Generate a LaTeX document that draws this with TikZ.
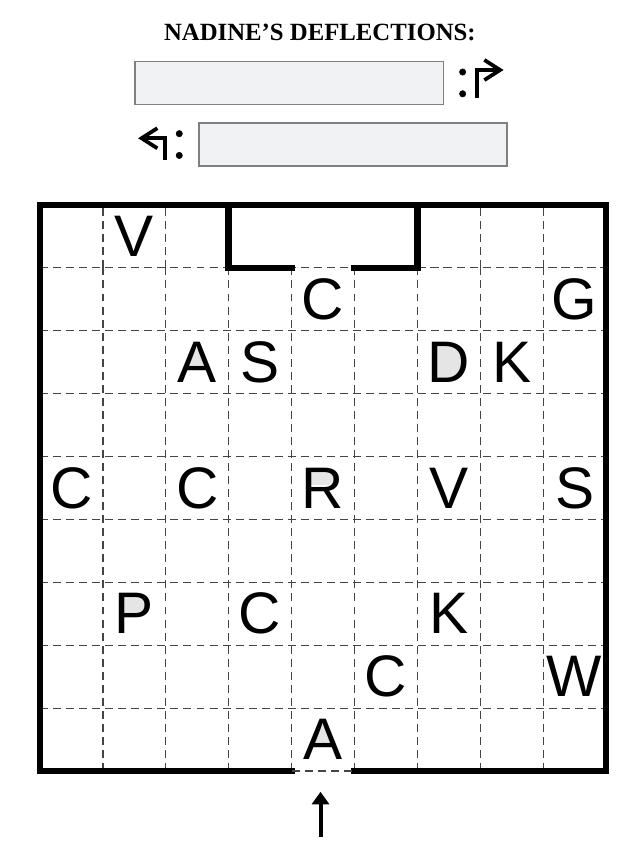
\documentclass[tikz,border=0pt]{standalone}
\usepackage{fontspec}
\setmainfont{Liberation Serif}
\newfontfamily\lettersfont{Liberation Sans}
\newfontfamily\colonfont[FakeBold=1.2]{Poppins}
\usepackage[dvipsnames]{xcolor}
\usetikzlibrary{positioning,backgrounds,arrows.meta}
\definecolor{boxgray}{HTML}{F0F2F3}
\definecolor{gridgray}{HTML}{454545}

\begin{document}
\begin{tikzpicture}[-,>=stealth,thick,
    letter/.style={font=\lettersfont\fontsize{26.5}{27}\selectfont,inner sep=0pt},
    answer box/.style={draw=gray,fill=boxgray,line width=0.6pt,minimum width=4.9cm,minimum height=0.68cm,inner sep=0pt},
    colon/.style={font=\colonfont\fontsize{23}{24}\selectfont,inner sep=0pt},
    frame/.style={line width=3pt},
    grid line/.style={gridgray,line width=0.55pt,dash pattern=on 3.6pt off 2.3pt},
    turn/.style={-{Straight Barb[length=0.25cm,width=0.32cm]},line width=1.7pt},
    entry/.style={-{Triangle[length=0.2cm,width=0.27cm]},line width=1.8pt},
    counter/.style={fill=black!10}]

            \useasboundingbox (-0.636,-1.224) rectangle (9.571,12.258);

            % header
            \node[font=\bfseries\fontsize{11.2}{13}\selectfont] (title) at (4.45,11.75) {NADINE'S DEFLECTIONS:};
            \node[answer box] (box1) at (3.96,10.94) {};
            \node[answer box] (box2) at (4.976,9.96) {};
            \node[colon] (colon1) [right=0.2cm of box1] {:};
            \node[colon] (colon2) [left=0.2cm of box2] {:};

            \coordinate (r1) at (6.95,10.70);
            \coordinate (r2) at (7.37,11.145);
            \coordinate (l1) at (1.99,9.714);
            \coordinate (l2) at (1.56,10.06);
            \draw[turn] (r1) |- (r2);
            \draw[turn] (l1) |- (l2);

            % grid
            \draw[grid line] (0,0) grid (9,8);
            \draw[grid line] (0,8) grid (3,9);
            \draw[grid line] (6,8) grid (9,9);

            \draw[frame] (0,0) rectangle (9,9);
            \draw[frame] (4.05,8) -- (3,8) -- (3,9);
            \draw[frame] (4.95,8) -- (6,8) -- (6,9);
            \fill[white] (4.05,-0.1) rectangle (4.95,0.1);
            \draw[grid line] (4,0) -- (5,0);

            % letters
            \node[letter] (1) at (1.5,8.5) {V};
            \node[letter] (2) at (4.5,7.5) {C};
            \node[letter] (3) at (8.5,7.5) {G};
            \node[letter] (4) at (2.5,6.5) {A};
            \node[letter] (5) at (3.5,6.5) {S};
            \node[letter] (6) at (6.5,6.5) {D};
            \node[letter] (7) at (7.5,6.5) {K};
            \node[letter] (8) at (0.5,4.5) {C};
            \node[letter] (9) at (2.5,4.5) {C};
            \node[letter] (10) at (4.5,4.5) {R};
            \node[letter] (11) at (6.5,4.5) {V};
            \node[letter] (12) at (8.5,4.5) {S};
            \node[letter] (13) at (1.5,2.5) {P};
            \node[letter] (14) at (3.5,2.5) {C};
            \node[letter] (15) at (6.5,2.5) {K};
            \node[letter] (16) at (5.5,1.5) {C};
            \node[letter] (17) at (8.5,1.5) {W};
            \node[letter] (18) at (4.5,0.5) {A};

            % shaded counters
            \begin{scope}[on background layer]
            \fill[counter] (4.south west) ++(0.19,0.276) -- ++(0.254,0) -- ++(-0.127,0.324) -- cycle;
            \fill[counter] (18.south west) ++(0.19,0.276) -- ++(0.254,0) -- ++(-0.127,0.324) -- cycle;
            \fill[counter] (6.south west) ++(0.16,0.07) -- ++(0.22,0) .. controls +(0.25,0) and +(0.25,0) .. ++(0,0.54) -- ++(-0.22,0) -- cycle;
            \fill[counter] (13.south west) ++(0.16,0.324) -- ++(0.24,0) .. controls +(0.14,0) and +(0.14,0) .. ++(0,0.282) -- ++(-0.24,0) -- cycle;
            \fill[counter] (10.south west) ++(0.16,0.38) -- ++(0.26,0) .. controls +(0.14,0) and +(0.14,0) .. ++(0,0.226) -- ++(-0.26,0) -- cycle;
            \end{scope}

            % way in
            \coordinate (in) at (4.46,-0.33);
            \coordinate (tail) at (4.46,-1.045);
            \draw[entry] (tail) -- (in);

        \end{tikzpicture}
\end{document}
